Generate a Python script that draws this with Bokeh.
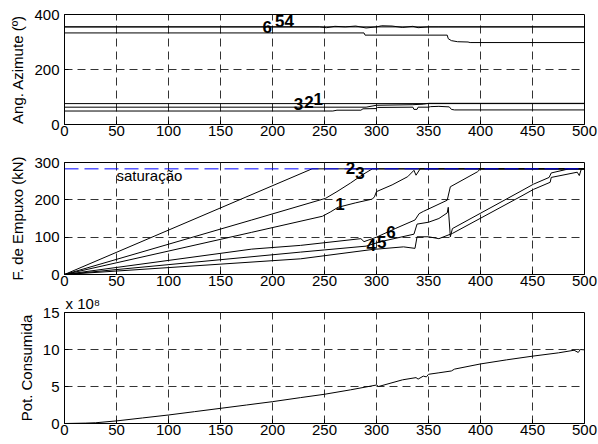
from bokeh.plotting import figure
from bokeh.models import ColumnDataSource, LabelSet, Label, FixedTicker, Range1d
from bokeh.core.properties import value
from bokeh.layouts import column
from bokeh.embed import file_html
from bokeh.resources import INLINE

# ---------------- data ----------------
x_ticks = [0, 50, 100, 150, 200, 250, 300, 350, 400, 450, 500]

# Panel 1: azimuth angles (degrees)
az_ticks = [0, 200, 400]
az1_x = [0, 258, 262, 285, 287, 300, 301, 335, 336, 339, 340, 350, 352, 360, 370, 372, 375, 500]
az1_y = [49, 49, 52, 52, 57, 58, 62, 63, 55, 55, 63, 63, 65, 66, 64, 55, 53, 53]
az2_x = [0, 290, 300, 335, 345, 350, 500]
az2_y = [63, 63, 70, 72, 74, 77, 77]
az3_x = [0, 500]
az3_y = [76, 76]
az4_x = [0, 500]
az4_y = [355, 355]
az5_x = [0, 245, 252, 260, 270, 280, 290, 300, 305, 315, 325, 335, 340, 350, 360, 500]
az5_y = [355, 355, 352, 357, 355, 358, 351, 355, 359, 358, 353, 357, 352, 355, 355, 355]
az6_x = [0, 288, 289, 368, 369, 372, 378, 388, 390, 500]
az6_y = [333, 333, 325, 325, 312, 305, 301, 300, 298, 298]
az_lab_text = ["6", "5", "4", "3", "2", "1"]
az_lab_x = [195, 207, 216, 225, 235, 244]
az_lab_y = [353, 375, 375, 74, 82, 91]

# Panel 2: thrust force (kN)
f_ticks = [0, 100, 200, 300]
saturation = 283
f1_x = [0, 180, 248, 256, 263, 280, 296, 298, 300, 315, 330, 336, 338, 342, 500]
f1_y = [0, 113, 156, 168, 180, 192, 202, 208, 222, 240, 262, 279, 266, 283, 283]
f2_x = [0, 238, 500]
f2_y = [0, 283, 283]
f3_x = [0, 180, 251, 262, 275, 287, 296, 500]
f3_y = [0, 146, 204, 222, 245, 268, 283, 283]
f4_x = [0, 227, 296, 326, 337, 339, 350, 360, 373, 438, 451, 467, 468, 493, 495, 497, 500]
f4_y = [0, 42, 67, 74, 70, 101, 101, 96, 110, 208, 228, 247, 260, 274, 265, 283, 283]
f5_x = [0, 227, 290, 304, 336, 339, 350, 360, 368, 369, 371, 373, 438, 451, 466, 468, 485, 500]
f5_y = [0, 60, 76, 88, 108, 135, 140, 150, 165, 180, 101, 123, 222, 242, 260, 272, 283, 283]
f6_x = [0, 180, 227, 285, 288, 300, 318, 337, 341, 345, 368, 371, 397, 400, 500]
f6_y = [0, 68, 78, 96, 88, 100, 123, 146, 163, 169, 199, 235, 275, 283, 283]
f_lab_text = ["2", "3", "1", "4", "5", "6"]
f_lab_x = [275, 284, 265, 295, 305, 314]
f_lab_y = [286, 273, 189, 80, 86, 114]

# Panel 3: consumed power (x 1e8)
p_ticks = [0, 5, 10, 15]
pw_x = [0, 20, 30, 50, 75, 100, 125, 150, 175, 200, 227, 250, 275, 300, 302, 325, 338, 340, 345, 348, 350, 360, 372, 375, 400, 425, 450, 475, 490, 494, 496, 500]
pw_y = [0, 0.05, 0.1, 0.35, 0.75, 1.15, 1.6, 2.05, 2.5, 2.95, 3.5, 3.95, 4.55, 5.2, 5.0, 5.9, 6.2, 6.0, 6.4, 6.3, 6.65, 6.85, 7.1, 7.35, 8.05, 8.6, 9.1, 9.55, 9.9, 9.6, 10.0, 9.95]

FONT = "Liberation Sans"


def make_fig(height, top, bottom, yr, yticks, ylabel):
    p = figure(width=598, height=height, x_range=Range1d(0, 500), y_range=Range1d(*yr),
               output_backend="svg", toolbar_location=None,
               min_border_left=64, min_border_right=14,
               min_border_top=top, min_border_bottom=bottom)
    p.outline_line_color = "black"
    p.outline_line_width = 1
    p.outline_line_alpha = 1
    p.xaxis.ticker = FixedTicker(ticks=x_ticks)
    p.yaxis.ticker = FixedTicker(ticks=yticks)
    for ax in (p.xaxis[0], p.yaxis[0]):
        ax.major_tick_in = 4
        ax.major_tick_out = 0
        ax.minor_tick_line_color = None
        ax.major_tick_line_color = "black"
        ax.axis_line_color = "black"
        ax.major_label_text_font = FONT
        ax.major_label_text_font_size = "15px"
        ax.major_label_text_color = "black"
    p.xaxis.major_label_standoff = 1
    p.yaxis.major_label_standoff = 5
    p.yaxis.axis_label = ylabel
    p.yaxis.axis_label_text_font = FONT
    p.yaxis.axis_label_text_font_size = "15px"
    p.yaxis.axis_label_text_font_style = "normal"
    p.yaxis.axis_label_text_color = "black"
    p.yaxis.axis_label_standoff = 5
    p.grid.grid_line_color = "#333333"
    p.grid.grid_line_dash = "8 5"
    p.grid.grid_line_width = 1
    return p


def add_labels(p, texts, xs, ys):
    src = ColumnDataSource(dict(t=texts, x=xs, y=ys))
    ls = LabelSet(x="x", y="y", text="t", source=src, text_align="center",
                  text_baseline="middle", text_font=value(FONT), text_font_size=value("17px"),
                  text_font_style="bold", text_color="black")
    p.add_layout(ls)


# Panel 1
p1 = make_fig(144, 14, 20, (0, 400), az_ticks, "Ang. Azimute (º)")
for xs, ys in [(az1_x, az1_y), (az2_x, az2_y), (az3_x, az3_y),
               (az4_x, az4_y), (az5_x, az5_y), (az6_x, az6_y)]:
    p1.line(xs, ys, line_color="black", line_width=1)
add_labels(p1, az_lab_text, az_lab_x, az_lab_y)

# Panel 2
p2 = make_fig(148, 18, 18, (0, 300), f_ticks, "F. de Empuxo (kN)")
for xs, ys in [(f1_x, f1_y), (f2_x, f2_y), (f3_x, f3_y),
               (f4_x, f4_y), (f5_x, f5_y), (f6_x, f6_y)]:
    p2.line(xs, ys, line_color="black", line_width=1)
p2.line([0, 500], [saturation, saturation], line_color="#0000ff", line_width=1, line_dash="14 6")
add_labels(p2, f_lab_text, f_lab_x, f_lab_y)
p2.add_layout(Label(x=50, y=287, text="saturação", text_align="left", text_baseline="top",
                    text_font=FONT, text_font_size="15px", text_color="black"))

# Panel 3
p3 = make_fig(152, 19, 21, (0, 15), p_ticks, "Pot. Consumida")
p3.line(pw_x, pw_y, line_color="black", line_width=1)
p3.title.text = "x 10\u2078"
p3.title.align = "left"
p3.title.offset = 1
p3.title.standoff = 1
p3.title.text_font = FONT
p3.title.text_font_size = "15px"
p3.title.text_font_style = "normal"
p3.title.text_color = "black"

layout = column(p1, p2, p3, spacing=0)
open("out.html", "w").write(file_html(layout, INLINE))
